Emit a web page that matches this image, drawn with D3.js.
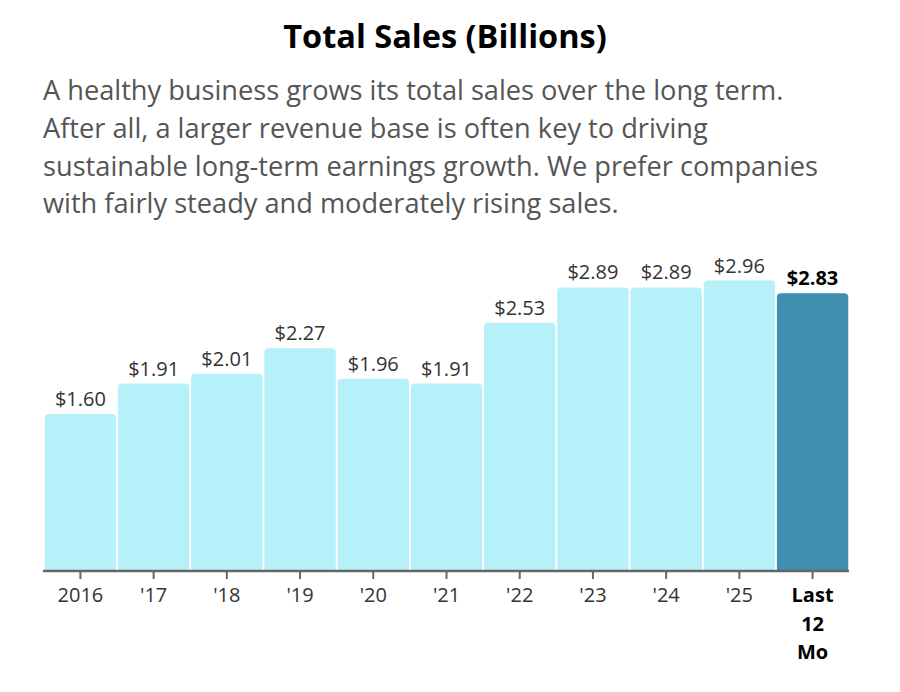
<!DOCTYPE html>
<html>
<head>
<meta charset="utf-8">
<script src="https://cdn.jsdelivr.net/npm/d3@7"></script>
<style>
  body { margin: 0; background: #fff; font-family: "Open Sans", sans-serif; }
</style>
</head>
<body>
<div id="chart"></div>
<script>
const categories = ["2016", "'17", "'18", "'19", "'20", "'21", "'22", "'23", "'24", "'25", "Last 12 Mo"];
const sales = [1.60, 1.91, 2.01, 2.27, 1.96, 1.91, 2.53, 2.89, 2.89, 2.96, 2.83];
const title = "Total Sales (Billions)";
const subtitle = [
    "A healthy business grows its total sales over the long term.",
    "After all, a larger revenue base is often key to driving",
    "sustainable long-term earnings growth. We prefer companies",
    "with fairly steady and moderately rising sales."
];

const W = 900, H = 692;
const svg = d3.select("#chart").append("svg")
    .attr("width", W)
    .attr("height", H);

svg.append("text")
    .attr("x", 445)
    .attr("y", 48)
    .attr("text-anchor", "middle")
    .attr("font-size", 32.5)
    .attr("font-weight", "bold")
    .attr("fill", "#000")
    .text(title);

svg.append("g").selectAll("text")
    .data(subtitle)
    .enter().append("text")
    .attr("x", 43)
    .attr("y", (d, i) => 100 + i * 37.8)
    .attr("font-size", 27.2)
    .attr("fill", "#555")
    .text(d => d);

const baseY = 571;
const x = d3.scaleBand().domain(categories).range([44, 849]).paddingInner(0.025).paddingOuter(0.01);
const y = d3.scaleLinear().domain([0, 1.6]).range([baseY, 414]);

const last = categories.length - 1;

function topRounded(x0, y0, w, h, r) {
    r = Math.min(r, h, w / 2);
    return `M${x0},${y0 + h}V${y0 + r}Q${x0},${y0} ${x0 + r},${y0}H${x0 + w - r}Q${x0 + w},${y0} ${x0 + w},${y0 + r}V${y0 + h}Z`;
}

svg.append("g").selectAll("path")
    .data(sales)
    .enter().append("path")
    .attr("d", (d, i) => topRounded(x(categories[i]), y(d), x.bandwidth(), baseY - y(d), 4))
    .attr("fill", (d, i) => i === last ? "#3f8fae" : "#b6f0f8");

svg.append("g").selectAll("text")
    .data(sales)
    .enter().append("text")
    .attr("x", (d, i) => x(categories[i]) + x.bandwidth() / 2)
    .attr("y", d => y(d) - 8)
    .attr("text-anchor", "middle")
    .attr("font-size", 20)
    .attr("font-weight", (d, i) => i === last ? "bold" : "normal")
    .attr("fill", (d, i) => i === last ? "#000" : "#333")
    .text(d => "$" + d.toFixed(2));

// x axis
const axis = svg.append("g")
    .attr("transform", `translate(0,${baseY})`)
    .call(d3.axisBottom(x).tickSize(8).tickSizeOuter(0).tickFormat(""));
axis.select(".domain").attr("stroke", "#666").attr("stroke-width", 2.5)
    .attr("d", "M43,0H849");
axis.selectAll(".tick line").attr("stroke", "#666").attr("stroke-width", 2);

axis.selectAll(".tick").each(function(d, i) {
    const words = i === last ? ["Last", "12", "Mo"] : [d];
    const t = d3.select(this).append("text")
        .attr("text-anchor", "middle")
        .attr("font-size", 20)
        .attr("font-family", "'Open Sans', sans-serif")
        .attr("font-weight", i === last ? "bold" : "normal")
        .attr("fill", i === last ? "#000" : "#333");
    words.forEach((w, j) => {
        t.append("tspan").attr("x", 0).attr("y", 31 + j * 28.5).text(w);
    });
});
</script>
</body>
</html>
